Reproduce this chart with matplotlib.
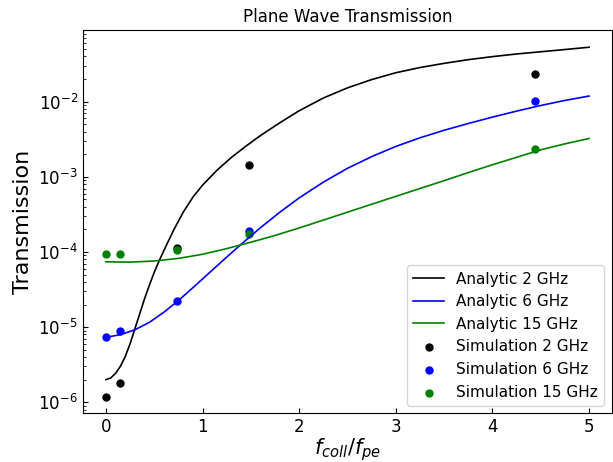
import matplotlib
matplotlib.use('Agg')
import matplotlib.pyplot as plt

# analytic curves
x_2ghz = [0, 0.05, 0.1, 0.15, 0.2, 0.25, 0.3, 0.35, 0.4, 0.45, 0.5, 0.55, 0.6, 0.7,
          0.8, 0.9, 1.0, 1.15, 1.3, 1.45, 1.6, 1.8, 2.0, 2.25, 2.5, 2.75, 3.0, 3.25,
          3.5, 3.75, 4.0, 4.25, 4.5, 4.75, 5.0]
t_2ghz = [2.00e-6, 2.11e-6, 2.43e-6, 3.02e-6, 4.07e-6, 6.03e-6, 9.55e-6, 1.51e-5,
          2.40e-5, 3.63e-5, 5.37e-5, 7.59e-5, 1.05e-4, 1.95e-4, 3.39e-4, 5.37e-4,
          7.76e-4, 1.23e-3, 1.82e-3, 2.57e-3, 3.55e-3, 5.25e-3, 7.59e-3, 1.12e-2,
          1.53e-2, 1.97e-2, 2.43e-2, 2.85e-2, 3.24e-2, 3.63e-2, 3.98e-2, 4.32e-2,
          4.62e-2, 4.95e-2, 5.31e-2]

x_6ghz = [0, 0.15, 0.3, 0.45, 0.6, 0.75, 0.9, 1.05, 1.2, 1.4, 1.6, 1.8, 2.0, 2.25,
          2.5, 2.75, 3.0, 3.25, 3.5, 3.75, 4.0, 4.25, 4.5, 4.75, 5.0]
t_6ghz = [7.33e-6, 7.94e-6, 9.23e-6, 1.16e-5, 1.58e-5, 2.26e-5, 3.35e-5, 5.01e-5,
          7.50e-5, 1.27e-4, 2.11e-4, 3.39e-4, 5.25e-4, 8.51e-4, 1.30e-3, 1.86e-3,
          2.54e-3, 3.31e-3, 4.17e-3, 5.13e-3, 6.24e-3, 7.50e-3, 8.91e-3, 1.04e-2,
          1.19e-2]

x_15ghz = [0, 0.25, 0.5, 0.75, 1.0, 1.25, 1.5, 1.75, 2.0, 2.25, 2.5, 2.75, 3.0,
           3.25, 3.5, 3.75, 4.0, 4.25, 4.5, 4.75, 5.0]
t_15ghz = [7.41e-5, 7.33e-5, 7.59e-5, 8.22e-5, 9.33e-5, 1.11e-4, 1.35e-4, 1.66e-4,
           2.09e-4, 2.66e-4, 3.39e-4, 4.32e-4, 5.50e-4, 7.00e-4, 8.91e-4, 1.14e-3,
           1.45e-3, 1.82e-3, 2.29e-3, 2.75e-3, 3.24e-3]

# simulation points
x_sim = [0, 0.148, 0.74, 1.48, 4.44]
sim_2ghz = [1.19e-6, 1.82e-6, 1.12e-4, 1.45e-3, 2.32e-2]
sim_6ghz = [7.33e-6, 8.97e-6, 2.23e-5, 1.90e-4, 1.03e-2]
sim_15ghz = [9.31e-5, 9.31e-5, 1.06e-4, 1.74e-4, 2.37e-3]

fig = plt.figure(figsize=(6.13, 4.62), dpi=100)
ax = fig.add_axes([0.135, 0.105, 0.863, 0.83])

ax.plot(x_2ghz, t_2ghz, color='k', lw=1.2, label='Analytic 2 GHz')
ax.plot(x_6ghz, t_6ghz, color='b', lw=1.2, label='Analytic 6 GHz')
ax.plot(x_15ghz, t_15ghz, color='g', lw=1.2, label='Analytic 15 GHz')
ax.scatter(x_sim, sim_2ghz, s=25, color='k', label='Simulation 2 GHz')
ax.scatter(x_sim, sim_6ghz, s=25, color='b', label='Simulation 6 GHz')
ax.scatter(x_sim, sim_15ghz, s=25, color='g', label='Simulation 15 GHz')

ax.set_yscale('log')
ax.set_xlim(-0.24, 5.235)
ax.set_ylim(10 ** -6.149, 10 ** -1.046)
ax.tick_params(which='both', direction='in', labelsize=12)

ax.set_title('Plane Wave Transmission', fontsize=12)
ax.set_xlabel(r'$f_{coll}/f_{pe}$', fontsize=15, labelpad=0)
ax.set_ylabel('Transmission', fontsize=16)
ax.legend(loc='lower right', fontsize=11)

fig.savefig('out.png', dpi=100)
